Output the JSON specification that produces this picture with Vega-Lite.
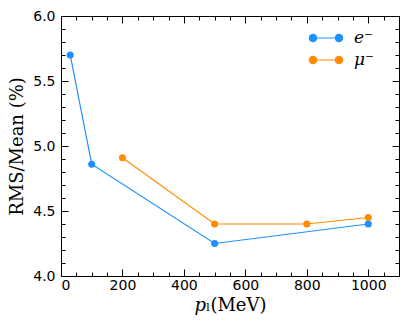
{
  "$schema": "https://vega.github.io/schema/vega-lite/v6.json",
  "width": 338,
  "height": 260,
  "autosize": {"type": "none"},
  "padding": {"left": 61, "top": 16, "right": 8, "bottom": 52},
  "background": "white",
  "config": {
    "view": {"stroke": "black", "strokeWidth": 1},
    "axis": {"grid": false, "domain": false, "tickColor": "black", "labelColor": "black", "labelFont": "DejaVu Sans", "labelFontSize": 14, "titleFont": "DejaVu Serif", "titleFontSize": 18, "titleFontWeight": "normal", "titleColor": "black"}
  },
  "data": {"values": [
    {"p": 30, "v": 5.70, "s": "e⁻"},
    {"p": 100, "v": 4.86, "s": "e⁻"},
    {"p": 500, "v": 4.25, "s": "e⁻"},
    {"p": 1000, "v": 4.40, "s": "e⁻"},
    {"p": 200, "v": 4.91, "s": "μ⁻"},
    {"p": 500, "v": 4.40, "s": "μ⁻"},
    {"p": 800, "v": 4.40, "s": "μ⁻"},
    {"p": 1000, "v": 4.45, "s": "μ⁻"}
  ]},
  "layer": [
    {
      "mark": {"type": "line", "strokeWidth": 1.2},
      "encoding": {
        "x": {"field": "p", "type": "quantitative", "scale": {"domain": [0, 1100], "nice": false},
          "axis": {"orient": "bottom", "title": "𝑝ₗ(MeV)", "format": "d", "values": [0,50,100,150,200,250,300,350,400,450,500,550,600,650,700,750,800,850,900,950,1000,1050],
            "tickSize": {"condition": {"test": "datum.value % 200 === 0", "value": -7}, "value": -4},
            "labelExpr": "datum.value % 200 === 0 ? datum.label : ''", "labelPadding": 9, "titlePadding": 4}},
        "y": {"field": "v", "type": "quantitative", "scale": {"domain": [4.0, 6.0], "nice": false, "zero": false},
          "axis": {"orient": "left", "title": "RMS/Mean (%)", "values": [4.0,4.1,4.2,4.3,4.4,4.5,4.6,4.7,4.8,4.9,5.0,5.1,5.2,5.3,5.4,5.5,5.6,5.7,5.8,5.9,6.0],
            "format": ".1f",
            "tickSize": {"condition": {"test": "abs(datum.value*2 - round(datum.value*2)) < 0.001", "value": -7}, "value": -4},
            "labelExpr": "abs(datum.value*2 - round(datum.value*2)) < 0.001 ? datum.label : ''", "labelPadding": 13, "titlePadding": 6}},
        "color": {"field": "s", "type": "nominal", "scale": {"domain": ["e⁻", "μ⁻"], "range": ["#1E90FF", "#FF8C00"]},
          "legend": {"title": null, "orient": "none", "legendX": 251, "legendY": 8,
            "symbolType": "M-1,0L1,0M-0.72,0A0.28,0.28 0 1,0 -1.28,0A0.28,0.28 0 1,0 -0.72,0M1.28,0A0.28,0.28 0 1,0 0.72,0A0.28,0.28 0 1,0 1.28,0",
            "symbolSize": 676, "symbolStrokeWidth": 1.2, "symbolOpacity": 1,
            "labelFont": "DejaVu Serif", "labelFontStyle": "italic", "labelFontSize": 17, "labelOffset": 14, "rowPadding": 0}}
      }
    },
    {
      "mark": {"type": "point", "filled": true, "size": 50, "opacity": 1},
      "encoding": {
        "x": {"field": "p", "type": "quantitative",
          "axis": {"orient": "top", "title": null, "labels": false, "values": [0,50,100,150,200,250,300,350,400,450,500,550,600,650,700,750,800,850,900,950,1000,1050],
            "tickSize": {"condition": {"test": "datum.value % 200 === 0", "value": -7}, "value": -4}}},
        "y": {"field": "v", "type": "quantitative",
          "axis": {"orient": "right", "title": null, "labels": false, "values": [4.0,4.1,4.2,4.3,4.4,4.5,4.6,4.7,4.8,4.9,5.0,5.1,5.2,5.3,5.4,5.5,5.6,5.7,5.8,5.9,6.0],
            "tickSize": {"condition": {"test": "abs(datum.value*2 - round(datum.value*2)) < 0.001", "value": -7}, "value": -4}}},
        "color": {"field": "s", "type": "nominal"}
      }
    }
  ],
  "resolve": {"axis": {"x": "independent", "y": "independent"}}
}
